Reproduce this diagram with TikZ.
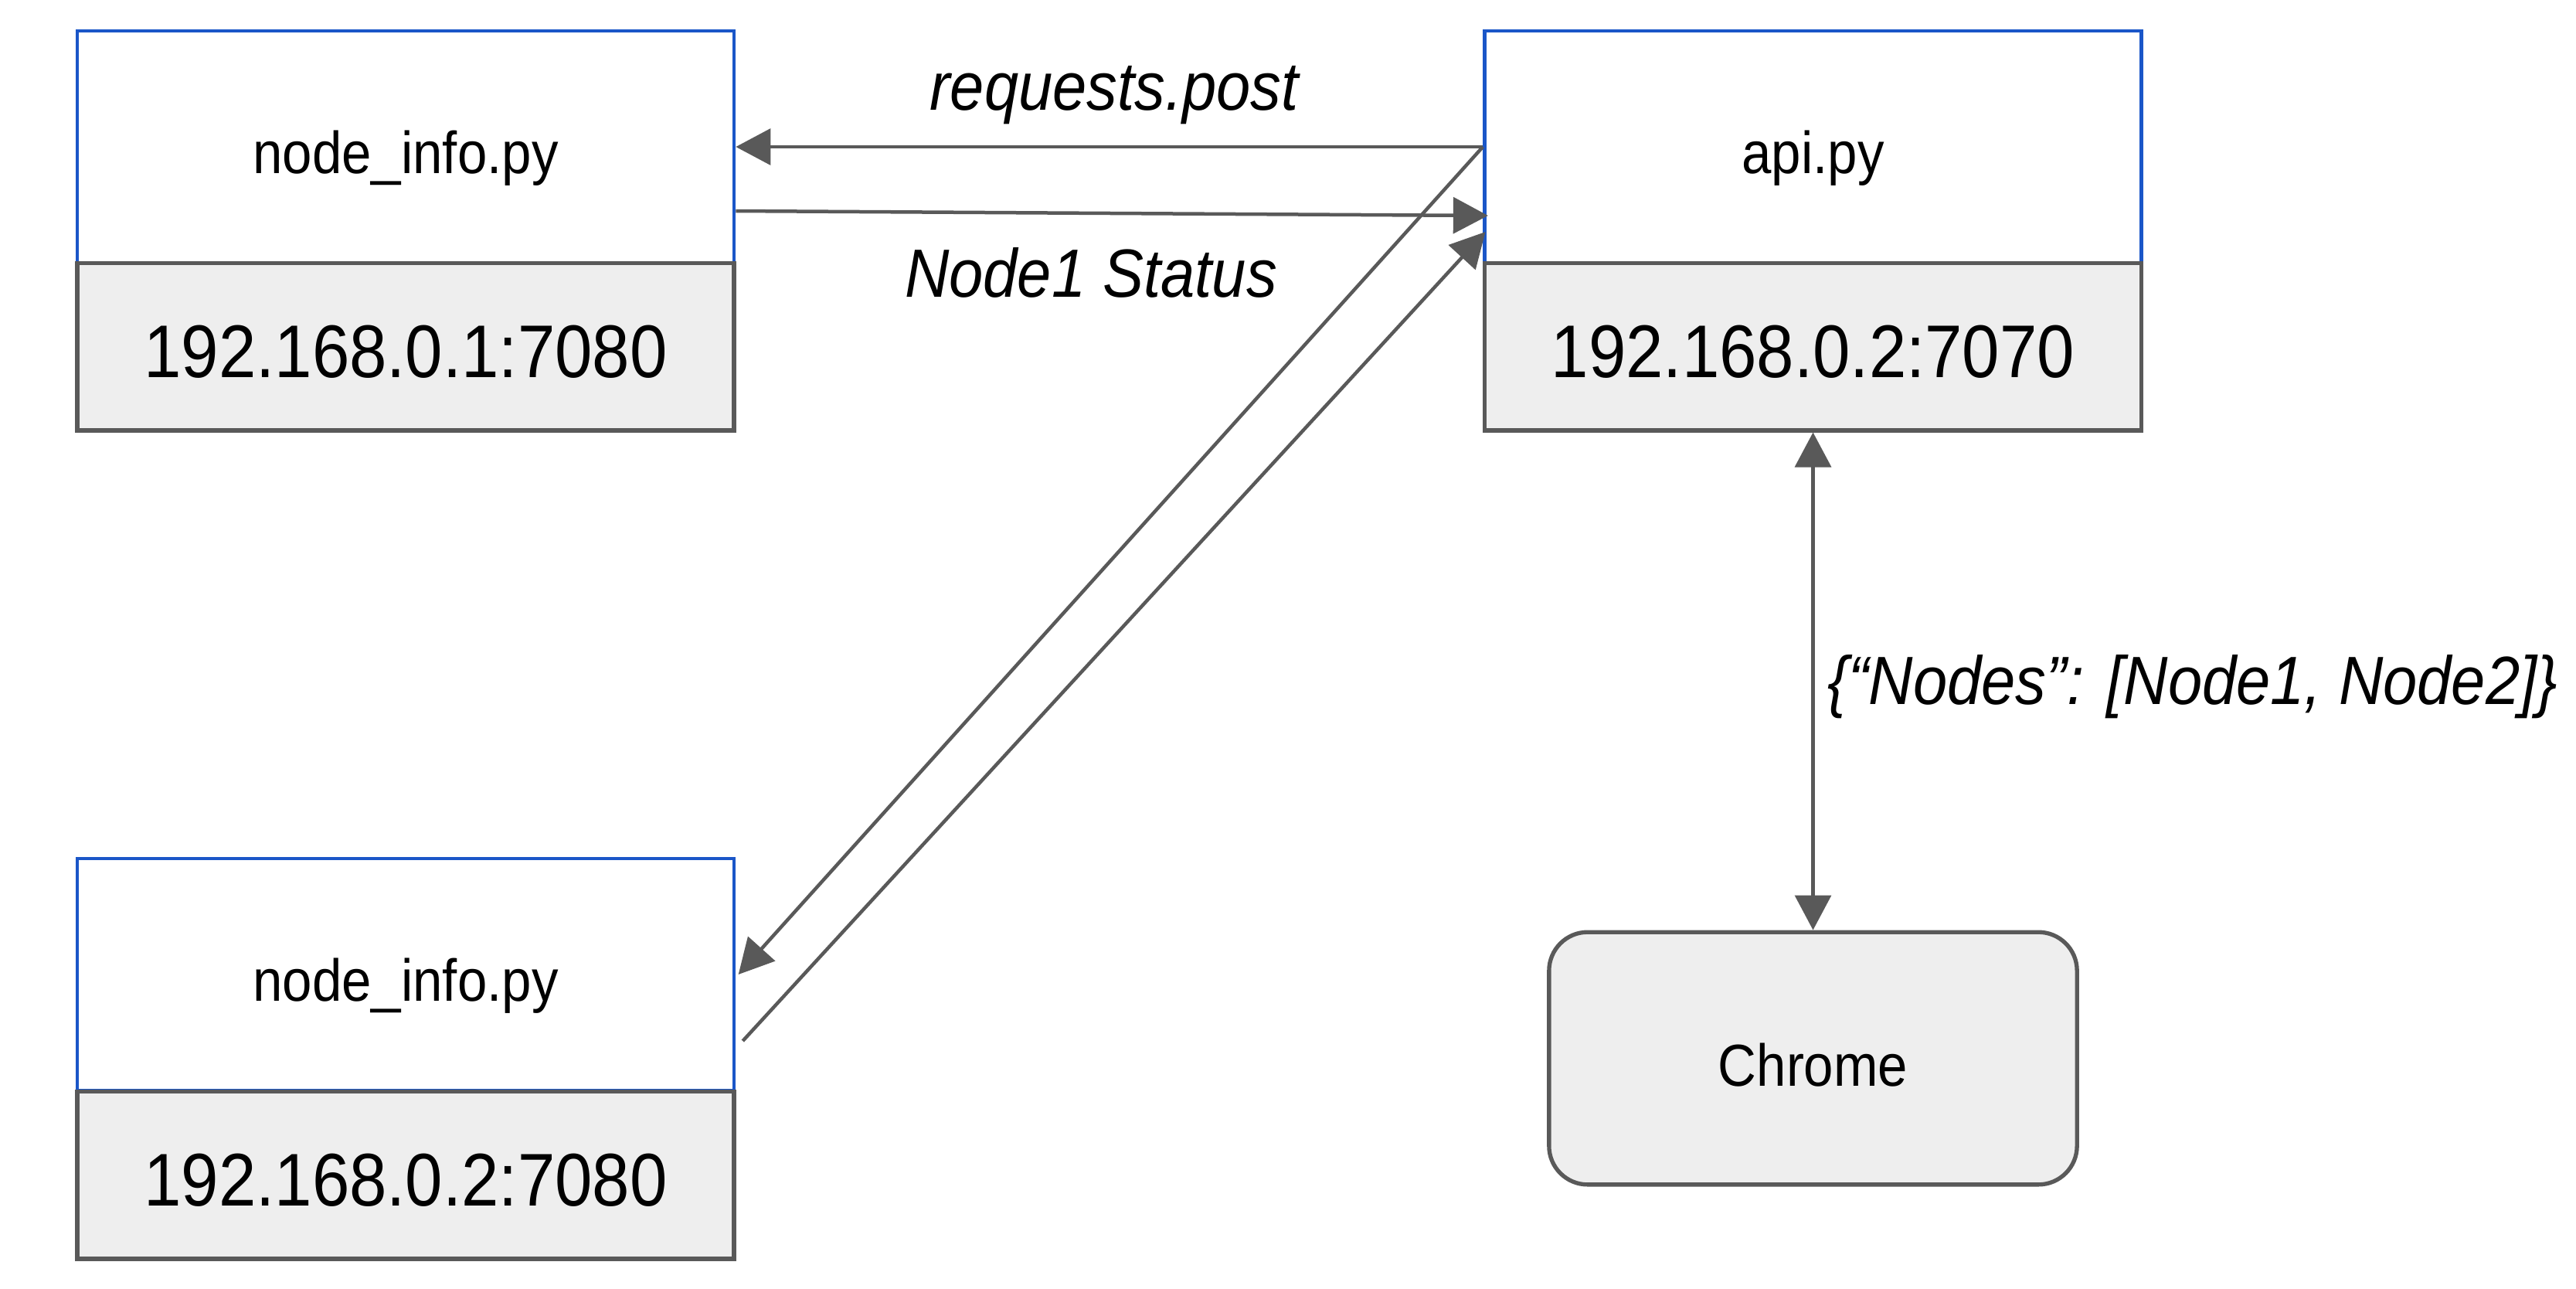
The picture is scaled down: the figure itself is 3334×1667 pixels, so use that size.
\documentclass[tikz,border=0pt]{standalone}
\usepackage{fontspec}
\setmainfont{Liberation Sans}[FakeStretch=0.9]
\usetikzlibrary{arrows.meta}
\definecolor{boxblue}{HTML}{1A56C8}
\definecolor{linegray}{HTML}{595959}
\definecolor{fillgray}{HTML}{EEEEEE}
\newcommand{\dn}[2]{\raisebox{-#1}[\height][\depth]{#2}}
\tikzset{
  toppart/.style={draw=boxblue, fill=white, line width=1.4pt, minimum width=255pt, minimum height=90pt, inner sep=0pt, font=\fontsize{23}{27}\selectfont},
  botpart/.style={draw=linegray, fill=fillgray, line width=1.6pt, minimum width=255pt, minimum height=65pt, inner sep=0pt, font=\fontsize{29}{34}\selectfont},
  roundbox/.style={draw=linegray, fill=fillgray, line width=1.6pt, rounded corners=15pt, minimum width=205pt, minimum height=98pt, inner sep=0pt, font=\fontsize{23}{27}\selectfont},
  arr/.style={draw=linegray, line width=1.35pt, -{Triangle[length=13.5pt,width=14pt]}},
  dblarr/.style={draw=linegray, line width=1.35pt, {Triangle[length=13.5pt,width=14pt]}-{Triangle[length=13.5pt,width=14pt]}},
  lbl/.style={inner sep=0pt, font=\fontsize{26.5}{31}\selectfont\itshape}
}
\begin{document}
\begin{tikzpicture}[x=0.3pt, y=-0.3pt]
\useasboundingbox (0,0) rectangle (3334,1667);
% top-left box
\node[toppart] (tlTop) at (525,190) {\dn{4.5pt}{node\_info.py}};
\node[botpart] (tlBot) at (525,448.5) {\dn{2pt}{192.168.0.1:7080}};
% api box
\node[toppart] (apiTop) at (2346.5,190) {\dn{4.5pt}{api.py}};
\node[botpart] (apiBot) at (2346.5,448.5) {\dn{2pt}{192.168.0.2:7070}};
% bottom-left box
\node[toppart] (blTop) at (525,1261) {\dn{4.5pt}{node\_info.py}};
\node[botpart] (blBot) at (525,1520.5) {\dn{2pt}{192.168.0.2:7080}};
% chrome
\node[roundbox] (chrome) at (2346.5,1369.5) {\dn{2.5pt}{Chrome}};
% connectors
\draw[arr] (apiTop.west) -- (tlTop.east);
\draw[arr] ([yshift=-24.9pt]tlTop.east) -- ([xshift=2pt,yshift=-26.7pt]apiTop.west);
\draw[arr] (apiTop.west) -- ([xshift=1pt]blTop.east);
\draw[arr] ([xshift=2.7pt,yshift=-25.8pt]blTop.east) -- ([xshift=1pt,yshift=-33pt]apiTop.west);
\draw[dblarr] (apiBot.south) -- (chrome.north);
% labels
\node[lbl] (lreq) at (1442,123) {requests.post};
\node[lbl] (lstat) at (1412,353) {Node1 Status};
\node[lbl] (lnodes) at (2838,889) {\{“Nodes”: [Node1, Node2]\}};
\end{tikzpicture}
\end{document}
